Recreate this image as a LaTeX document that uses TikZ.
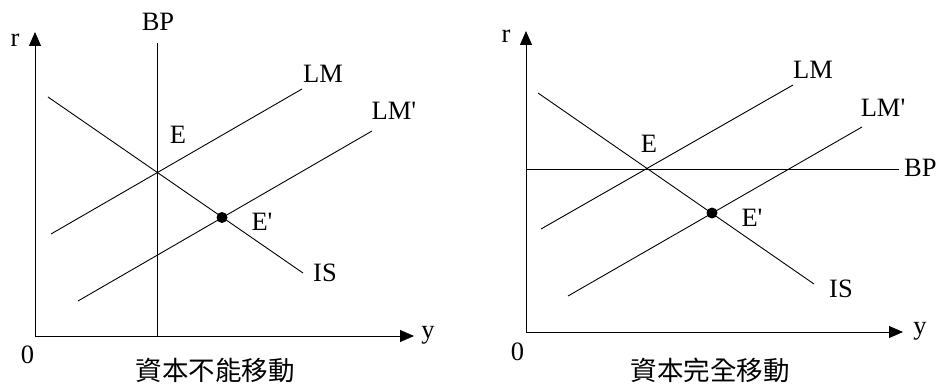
\documentclass[tikz,border=0pt]{standalone}
\usepackage{fontspec}
\setmainfont{Liberation Serif}
\newfontfamily\cjk{Noto Sans CJK TC}
\usetikzlibrary{arrows.meta}
\begin{document}
\begin{tikzpicture}[x=1pt, y=-1pt, line width=0.9pt,
  every node/.style={inner sep=0pt, font=\fontsize{26.5}{30}\selectfont},
  lbl/.style={anchor=base},
  axis/.style={{Triangle[length=14pt,width=12pt]}-{Triangle[length=14pt,width=12pt]}},
  dot/.style={circle, fill, minimum size=11pt}]
  \useasboundingbox (0,0) rectangle (939,385);

  % capital immobile
  \coordinate (rtop1) at (35,32);
  \coordinate (o1) at (35,336);
  \coordinate (yend1) at (414,336);
  \coordinate (bptop1) at (157,43);
  \coordinate (bpbot1) at (157,336);
  \coordinate (is1a) at (48,97);
  \coordinate (is1b) at (303,273);
  \coordinate (lm1a) at (51,234);
  \coordinate (lm1b) at (302,89);
  \coordinate (lmp1a) at (78,301);
  \coordinate (lmp1b) at (372,131);
  \node[dot] (ep1) at (222,217.5) {};

  \draw[axis] (rtop1) -- (o1) -- (yend1);
  \draw (bptop1) -- (bpbot1);
  \draw (is1a) -- (is1b);
  \draw (lm1a) -- (lm1b);
  \draw (lmp1a) -- (lmp1b);

  \node[lbl] (r1) at (15,46.5) {r};
  \node[lbl] (y1) at (428,338) {y};
  \node[lbl] (zero1) at (27.5,363) {0};
  \node[lbl] (bp1) at (158,30.5) {BP};
  \node[lbl] (lm1) at (323,83) {LM};
  \node[lbl] (lmp1) at (394,120) {LM\textquotesingle};
  \node[lbl] (e1) at (178,143) {E};
  \node[lbl] (epl1) at (262,230) {E\textquotesingle};
  \node[lbl] (is1) at (325,281) {IS};
  \node (cap1) at (215,370) {\cjk 資本不能移動};

  % capital perfectly mobile
  \coordinate (rtop2) at (526,31);
  \coordinate (o2) at (526,332);
  \coordinate (yend2) at (903,332);
  \coordinate (bpa2) at (526,169);
  \coordinate (bpb2) at (899,169);
  \coordinate (is2a) at (538,93);
  \coordinate (is2b) at (814,284);
  \coordinate (lm2a) at (541,229);
  \coordinate (lm2b) at (793,85);
  \coordinate (lmp2a) at (568,296);
  \coordinate (lmp2b) at (862,127);
  \node[dot] (ep2) at (712,213) {};

  \draw[axis] (rtop2) -- (o2) -- (yend2);
  \draw (bpa2) -- (bpb2);
  \draw (is2a) -- (is2b);
  \draw (lm2a) -- (lm2b);
  \draw (lmp2a) -- (lmp2b);

  \node[lbl] (r2) at (506,43) {r};
  \node[lbl] (y2) at (920,334) {y};
  \node[lbl] (zero2) at (517.5,360) {0};
  \node[lbl, anchor=base east] (bp2) at (937,176) {BP};
  \node[lbl] (lm2) at (813,79) {LM};
  \node[lbl] (lmp2) at (883,117) {LM\textquotesingle};
  \node[lbl] (e2) at (649,153) {E};
  \node[lbl] (epl2) at (752,226) {E\textquotesingle};
  \node[lbl] (is2) at (841,297) {IS};
  \node (cap2) at (710,370) {\cjk 資本完全移動};
\end{tikzpicture}
\end{document}
